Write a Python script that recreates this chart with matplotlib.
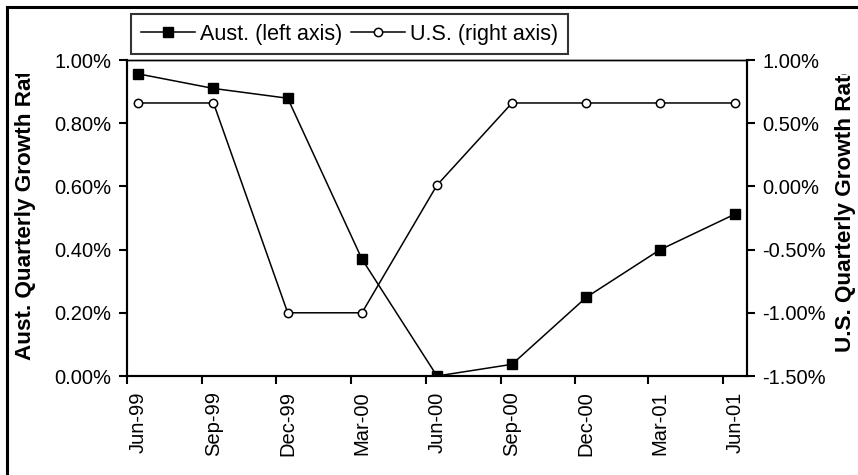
import matplotlib
matplotlib.use("Agg")
import matplotlib.pyplot as plt
import matplotlib.dates as mdates
from matplotlib.lines import Line2D
from matplotlib.transforms import Bbox, TransformedBbox
from matplotlib.ticker import FuncFormatter, NullFormatter
import datetime as dt

plt.rcParams['font.family'] = ['Liberation Sans', 'DejaVu Sans']

# data (quarterly growth, %)
quarters = ["1999-06", "1999-09", "1999-12", "2000-03", "2000-06",
            "2000-09", "2000-12", "2001-03", "2001-06"]
aust_growth = [0.956, 0.910, 0.879, 0.370, 0.0, 0.037, 0.249, 0.399, 0.512]
us_growth = [0.66, 0.66, -1.0, -1.0, 0.01, 0.66, 0.66, 0.66, 0.66]
left_ticks = [0.0, 0.2, 0.4, 0.6, 0.8, 1.0]
right_ticks = [-1.5, -1.0, -0.5, 0.0, 0.5, 1.0]

# points sit mid-month, axis ticks sit at the first of the month
point_dates = [dt.datetime.strptime(q + "-15", "%Y-%m-%d") for q in quarters]
tick_dates = [dt.datetime.strptime(q + "-01", "%Y-%m-%d") for q in quarters]
labels = [d.strftime("%b-%y") for d in point_dates]

W, H = 858, 475
fig = plt.figure(figsize=(W / 100, H / 100), dpi=100)
ax1 = fig.add_axes([127 / W, (H - 376) / H, (747 - 127) / W, (376 - 60) / H])
ax2 = ax1.twinx()

fs = 14.5
ax1.plot(point_dates, aust_growth, color="black", lw=1.1, marker="s",
         markersize=7.5, markerfacecolor="black", label="Aust. (left axis)", zorder=3)
ax2.plot(point_dates, us_growth, color="black", lw=1.1, marker="o",
         markersize=6, markerfacecolor="white", markeredgewidth=1.1,
         label="U.S. (right axis)", zorder=3)

ax1.set_xlim(dt.datetime(1999, 6, 1), dt.datetime(2001, 6, 30))
ax1.set_ylim(0, 1.0)
ax2.set_ylim(-1.5, 1.0)
ax1.set_yticks(left_ticks)
ax2.set_yticks(right_ticks)
ax1.yaxis.set_major_formatter(FuncFormatter(lambda v, p: f"{v:.2f}%"))
ax2.yaxis.set_major_formatter(FuncFormatter(lambda v, p: f"{v:.2f}%"))

ax1.set_xticks([mdates.date2num(d) for d in tick_dates])
ax1.xaxis.set_major_formatter(NullFormatter())
ax1.set_xticks([mdates.date2num(d) for d in point_dates], minor=True)
ax1.set_xticklabels(labels, minor=True, rotation=90, fontsize=fs)
ax1.tick_params(axis="x", which="minor", length=0, pad=11)
ax1.tick_params(axis="x", which="major", direction="out", length=6, width=1.5)
ax1.tick_params(axis="y", direction="out", length=6, width=1.5, labelsize=fs, pad=5)
ax2.tick_params(axis="y", direction="out", length=6, width=1.5, labelsize=fs, pad=5)

for ax in (ax1, ax2):
    for s in ax.spines.values():
        s.set_linewidth(1.5)
    ax.spines["top"].set_linewidth(1.0)

# axis titles, clipped like the original
bold = dict(fontsize=16.2, fontweight="bold", rotation=90, ha="left", va="center",
            rotation_mode="anchor")
clip = TransformedBbox(Bbox([[0, 0], [1, (H - 74) / H]]), fig.transFigure)
t1 = fig.text(26 / W, (H - 360) / H, "Aust. Quarterly Growth Rate", **bold)
t2 = fig.text(846 / W, (H - 352) / H, "U.S. Quarterly Growth Rate", **bold)
for t in (t1, t2):
    t.set_clip_box(clip)
    t.set_clip_on(True)

# legend
h1, l1 = ax1.get_legend_handles_labels()
h2, l2 = ax2.get_legend_handles_labels()
leg = fig.legend(h1 + h2, l1 + l2, loc="upper left",
                 bbox_to_anchor=(131 / W, (H - 14) / H), ncol=2, fontsize=15.5,
                 frameon=True, fancybox=False, edgecolor="black",
                 borderpad=0.45, handlelength=2.5, handletextpad=0.25,
                 columnspacing=0.4, borderaxespad=0)
leg.get_frame().set_linewidth(1.5)

# chart area border (left and top only are visible)
fig.add_artist(Line2D([7 / W, 7 / W], [0, (H - 7) / H], color="black", lw=2.2,
                      transform=fig.transFigure))
fig.add_artist(Line2D([7 / W, 1], [(H - 7) / H, (H - 7) / H], color="black", lw=2.2,
                      transform=fig.transFigure))

fig.savefig("out.png", dpi=100)
